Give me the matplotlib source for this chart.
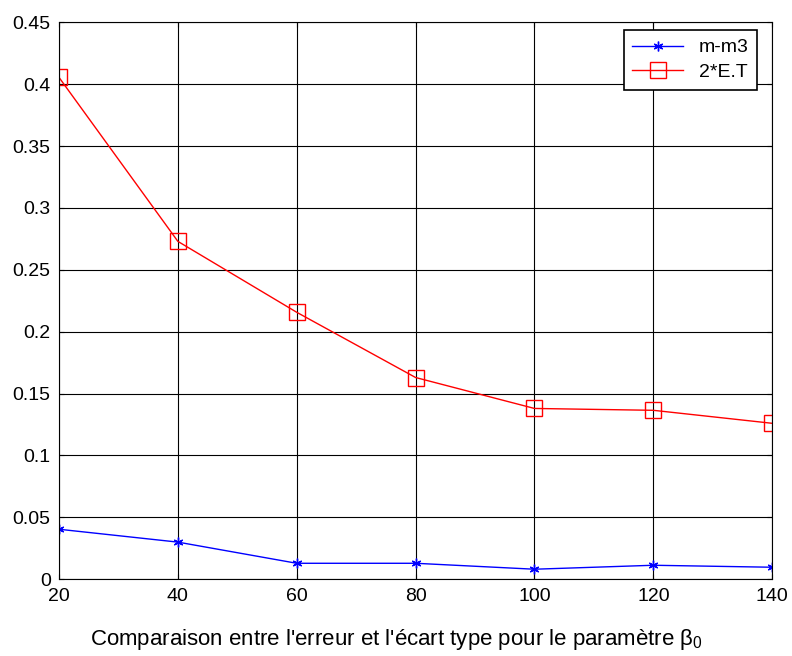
import matplotlib

matplotlib.use("Agg")
from matplotlib import pyplot as plt

plt.rcParams["font.family"] = ["Liberation Sans", "DejaVu Sans"]
plt.rcParams["mathtext.fontset"] = "custom"
plt.rcParams["mathtext.rm"] = "Liberation Sans"
plt.rcParams["mathtext.it"] = "Liberation Sans:italic"

beta0 = [20, 40, 60, 80, 100, 120, 140]
err_m_m3 = [0.0404, 0.0300, 0.0129, 0.0129, 0.0081, 0.0113, 0.0097]
two_std = [0.4055, 0.2730, 0.2157, 0.1630, 0.1380, 0.1365, 0.1260]

fig = plt.figure(figsize=(7.92, 6.56), dpi=100)
ax = fig.add_axes([0.0745, 0.117, 0.9005, 0.849])

ax.plot(beta0, err_m_m3, color="blue", linewidth=1, marker=(6, 2, 0),
        markersize=7, markeredgewidth=1, label="m-m3")
ax.plot(beta0, two_std, color="red", linewidth=1, marker="s",
        markersize=11, markerfacecolor="none", markeredgewidth=1, label="2*E.T")

ax.set_xlim(20, 140)
ax.set_ylim(0, 0.45)
ax.set_xticks(beta0)
ax.set_yticks([0, 0.05, 0.1, 0.15, 0.2, 0.25, 0.3, 0.35, 0.4, 0.45])
ax.set_yticklabels(["0", "0.05", "0.1", "0.15", "0.2", "0.25", "0.3", "0.35", "0.4", "0.45"])
ax.grid(True, color="black", linewidth=0.8, linestyle="-")
ax.tick_params(direction="in", labelsize=14, top=True, right=True, pad=6)
for spine in ax.spines.values():
    spine.set_linewidth(0.8)

# label is centred on the figure, not on the axes
fig.text(0.5, 0.017,
         r"Comparaison entre l'erreur et l'écart type pour le paramètre $\mathrm{\beta}_0$",
         ha="center", va="baseline", fontsize=16)

leg = ax.legend(loc="upper right", bbox_to_anchor=(0.979, 0.986), borderaxespad=0,
                fontsize=14, fancybox=False, framealpha=1, edgecolor="black",
                handlelength=2.6, borderpad=0.45, labelspacing=0.35)
leg.get_frame().set_linewidth(1.2)

fig.savefig("out.png", dpi=100)
plt.close(fig)
